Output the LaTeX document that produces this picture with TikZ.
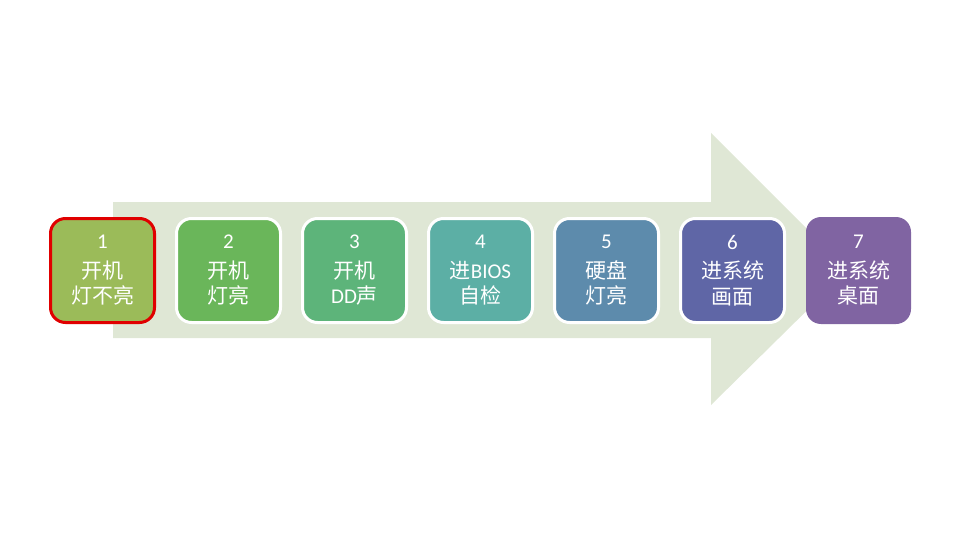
\documentclass[tikz,border=0pt]{standalone}
\usepackage{fontspec}
\setmainfont{Carlito}
\newfontfamily\cjk{Noto Sans CJK SC}
\definecolor{arrowbg}{HTML}{DFE7D5}
\definecolor{cA}{HTML}{9BBB59}
\definecolor{cB}{HTML}{6AB65A}
\definecolor{cC}{HTML}{5DB47A}
\definecolor{cD}{HTML}{5CAFA5}
\definecolor{cE}{HTML}{5D8BAC}
\definecolor{cF}{HTML}{5F66A6}
\definecolor{cG}{HTML}{8064A2}
\definecolor{redb}{HTML}{E00000}
\tikzset{
  stepbox/.style={rounded corners=15pt, minimum width=104pt, minimum height=104pt,
    inner sep=0pt, align=center, text=white, line width=3pt, draw=white,
    font=\fontsize{21}{25.5}\selectfont},
}
\begin{document}
\begin{tikzpicture}[x=1pt,y=-1pt]
\useasboundingbox (0,0) rectangle (960,540);
\fill[arrowbg] (113,202) -- (711,202) -- (711,133) -- (848,270) -- (711,405) -- (711,338) -- (113,338) -- cycle;
\node[stepbox, fill=cA, draw=redb] (s1) at (102.5,270.5) {1\\[4pt]{\cjk 开机}\\{\cjk 灯不亮}};
\node[stepbox, fill=cB] (s2) at (228.5,270.5) {2\\[4pt]{\cjk 开机}\\{\cjk 灯亮}};
\node[stepbox, fill=cC] (s3) at (354.5,270.5) {3\\[4pt]{\cjk 开机}\\DD{\cjk 声}};
\node[stepbox, fill=cD] (s4) at (480.5,270.5) {4\\[4pt]{\cjk 进}BIOS\\{\cjk 自检}};
\node[stepbox, fill=cE] (s5) at (606.5,270.5) {5\\[4pt]{\cjk 硬盘}\\{\cjk 灯亮}};
\node[stepbox, fill=cF] (s6) at (732.5,270.5) {6\\[4pt]{\cjk 进系统}\\{\cjk 画面}};
\node[stepbox, fill=cG, draw=none, minimum width=105pt, minimum height=107pt] (s7) at (858.5,270.5) {7\\[4pt]{\cjk 进系统}\\{\cjk 桌面}};
\end{tikzpicture}
\end{document}
